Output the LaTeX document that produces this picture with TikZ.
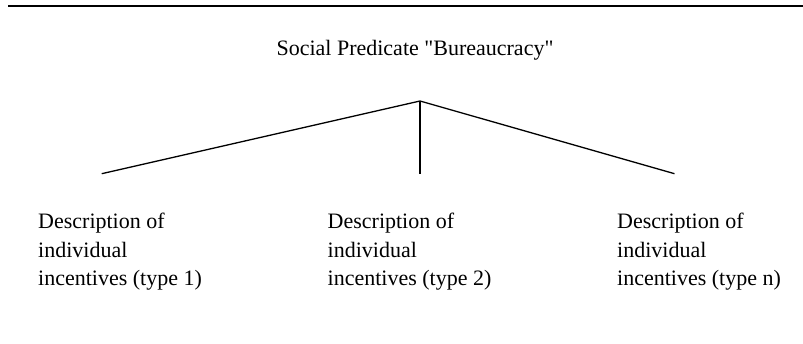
\documentclass[tikz,border=0pt]{standalone}
\usepackage{fontspec}
\setmainfont{Liberation Serif}
\newfontfamily\plainserif{Liberation Serif}
\begin{document}
\begin{tikzpicture}[x=1pt,y=-1pt,
  lbl/.style={inner sep=0pt, font=\plainserif\fontsize{22}{28.5}\selectfont},
  desc/.style={lbl, align=left, anchor=north west},
  branch/.style={draw=black, line width=1.3pt},
  rule/.style={draw=black, line width=2.6pt}]
\useasboundingbox (0,0) rectangle (803,343);
\coordinate (r1) at (8,5.8);
\coordinate (r2) at (803,5.8);
\draw[rule] (r1) -- (r2);
\node[lbl, anchor=base] (title) at (415,55) {Social Predicate "Bureaucracy"};
\coordinate (apex) at (420,101);
\coordinate (e1) at (101.7,173.7);
\coordinate (e2) at (420,173.7);
\coordinate (e3) at (674.5,173.7);
\draw[branch] (e1) -- (apex) -- (e3);
\draw[branch] (apex) -- (e2);
\node[desc] (d1) at (38,213) {Description of\\individual\\incentives (type 1)};
\node[desc] (d2) at (327.5,213) {Description of\\individual\\incentives (type 2)};
\node[desc] (d3) at (617,213) {Description of\\individual\\incentives (type n)};
\end{tikzpicture}
\end{document}
